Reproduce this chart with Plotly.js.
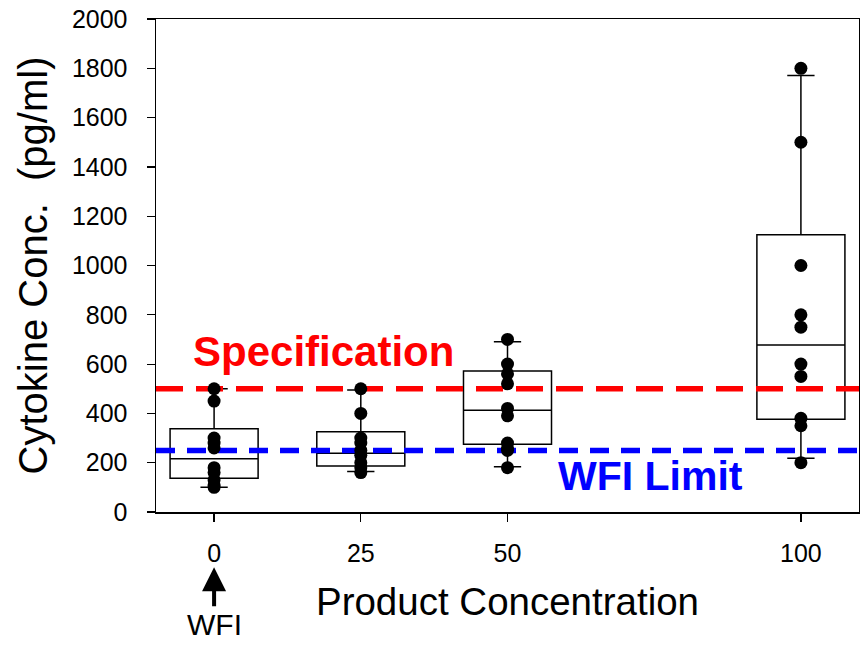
<!DOCTYPE html>
<html>
<head>
<meta charset="utf-8">
<script src="https://cdn.plot.ly/plotly-3.0.1.min.js"></script>
<style>
  html, body { margin: 0; padding: 0; background: #fff; }
  #chart { width: 860px; height: 645px; }
</style>
</head>
<body>
<div id="chart"></div>
<script>
// Product concentrations tested
const concentrations = [0, 25, 50, 100];
const tickLabels = ['0', '25', '50', '100'];

// Box summary per concentration (pg/ml)
const q1Values = [137, 187, 275, 376];
const medianValues = [216, 238, 413, 677];
const q3Values = [338, 326, 572, 1125];
const lowerWhisker = [100, 164, 184, 218];
const upperWhisker = [500, 495, 691, 1771];

// Individual cytokine measurements (pg/ml)
const wfiPoints = [500, 450, 300, 280, 260, 180, 160, 130, 110, 100];
const conc25Points = [500, 400, 300, 280, 250, 230, 200, 180, 160];
const conc50Points = [700, 600, 560, 520, 420, 390, 280, 260, 250, 180];
const conc100Points = [1800, 1500, 1000, 800, 750, 600, 550, 380, 350, 200];

// Reference limits (pg/ml)
const specificationLimit = 500;
const wfiLimit = 250;

const xRange = [-9.9, 109.9];
const FONT = 'Liberation Sans, Arial, sans-serif';

const pointGroups = [wfiPoints, conc25Points, conc50Points, conc100Points];
const pointX = [];
const pointY = [];
pointGroups.forEach((vals, i) => {
  vals.forEach(v => { pointX.push(concentrations[i]); pointY.push(v); });
});

const traces = [
  {
    type: 'box',
    x: concentrations,
    q1: q1Values,
    median: medianValues,
    q3: q3Values,
    lowerfence: lowerWhisker,
    upperfence: upperWhisker,
    width: 15,
    whiskerwidth: 0.31,
    boxpoints: false,
    fillcolor: '#ffffff',
    line: { color: '#000000', width: 1.5 },
    hoverinfo: 'skip'
  },
  {
    type: 'scatter',
    mode: 'lines',
    x: xRange,
    y: [specificationLimit, specificationLimit],
    line: { color: '#ff0000', width: 5.5, dash: '27px,13px' },
    hoverinfo: 'skip'
  },
  {
    type: 'scatter',
    mode: 'lines',
    x: xRange,
    y: [wfiLimit, wfiLimit],
    line: { color: '#0000ff', width: 5.5, dash: '19px,12px' },
    hoverinfo: 'skip'
  },
  {
    type: 'scatter',
    mode: 'markers',
    x: pointX,
    y: pointY,
    marker: { color: '#000000', size: 13, line: { width: 0 } },
    hoverinfo: 'skip'
  }
];

const layout = {
  width: 860,
  height: 645,
  autosize: false,
  showlegend: false,
  hovermode: false,
  paper_bgcolor: '#ffffff',
  plot_bgcolor: '#ffffff',
  font: { family: FONT, color: '#000000' },
  margin: { l: 156, r: 1, t: 19, b: 133 },
  xaxis: {
    range: xRange,
    tickmode: 'array',
    tickvals: concentrations,
    ticktext: tickLabels,
    ticks: 'outside',
    ticklen: 8,
    tickwidth: 1.2,
    tickcolor: '#000000',
    showline: true,
    linecolor: '#000000',
    linewidth: 1.5,
    mirror: true,
    showgrid: false,
    zeroline: false,
    ticklabelstandoff: 10,
    tickfont: { family: FONT, size: 25, color: '#000000' },
    title: {
      text: 'Product Concentration',
      font: { family: FONT, size: 38.5, color: '#000000' },
      standoff: 22
    }
  },
  yaxis: {
    range: [0, 2000],
    tickmode: 'array',
    tickvals: [0, 200, 400, 600, 800, 1000, 1200, 1400, 1600, 1800, 2000],
    ticks: 'outside',
    ticklen: 8,
    tickwidth: 1.2,
    tickcolor: '#000000',
    showline: true,
    linecolor: '#000000',
    linewidth: 1.5,
    mirror: true,
    showgrid: false,
    zeroline: false,
    ticklabelstandoff: 14,
    tickfont: { family: FONT, size: 25, color: '#000000' },
    title: {
      text: 'Cytokine Conc.  (pg/ml)',
      font: { family: FONT, size: 40, color: '#000000' },
      standoff: 12
    }
  },
  annotations: [
    {
      text: '<b>Specification</b>',
      x: 18.6, y: 650, xref: 'x', yref: 'y',
      showarrow: false,
      xanchor: 'center', yanchor: 'middle',
      font: { family: FONT, size: 42, color: '#ff0000' }
    },
    {
      text: '<b>WFI Limit</b>',
      x: 74.3, y: 146, xref: 'x', yref: 'y',
      showarrow: false,
      xanchor: 'center', yanchor: 'middle',
      font: { family: FONT, size: 41, color: '#0000ff' }
    },
    {
      text: 'WFI',
      x: 0, y: -0.112, xref: 'x', yref: 'paper',
      showarrow: true,
      ax: 0, ay: 57,
      arrowhead: 2, arrowsize: 1.2, arrowwidth: 4, arrowcolor: '#000000',
      standoff: 0, startstandoff: 0,
      font: { family: FONT, size: 30, color: '#000000' }
    }
  ]
};

Plotly.newPlot('chart', traces, layout, { staticPlot: true, displayModeBar: false });
</script>
</body>
</html>
